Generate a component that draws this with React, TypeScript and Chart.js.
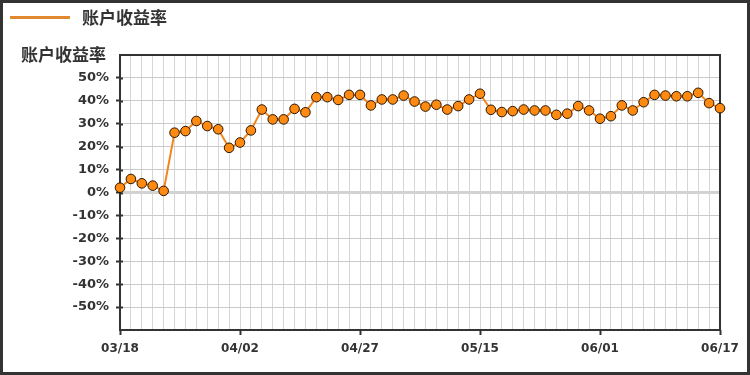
import React, { useEffect, useRef } from "react";
import { Chart, registerables } from "chart.js";

Chart.register(...registerables);

const SERIES_NAME = "账户收益率";
const Y_TITLE = "账户收益率";

const xLabels: string[] = [
  "03/18", "", "", "", "", "", "", "", "", "", "",
  "04/02", "", "", "", "", "", "", "", "", "", "",
  "04/27", "", "", "", "", "", "", "", "", "", "",
  "05/15", "", "", "", "", "", "", "", "", "", "",
  "06/01", "", "", "", "", "", "", "", "", "", "",
  "06/17",
];

const returnRate: number[] = [
  2.1, 5.9, 4.0, 3.0, 0.7, 26.1, 26.8, 31.2, 29.0, 27.6, 19.5,
  21.8, 27.1, 36.2, 31.9, 31.9, 36.5, 35.0, 41.6, 41.6, 40.4, 42.6,
  42.6, 38.0, 40.6, 40.6, 42.3, 39.7, 37.5, 38.3, 36.2, 37.7, 40.6,
  43.1, 36.1, 35.1, 35.5, 36.2, 35.8, 35.8, 33.9, 34.4, 37.7, 35.8,
  32.2, 33.3, 38.0, 35.8, 39.4, 42.6, 42.3, 42.0, 42.0, 43.5, 39.0,
  36.8,
];

const yMin = -60;
const yMax = 60;
const yStep = 10;

const LINE_COLOR = "#f0861c";
const POINT_FILL = "#ff8a12";
const LEGEND_COLOR = "#e0892f";
const TEXT_COLOR = "#333333";
const CJK_FONT = '"Noto Sans CJK SC", "Noto Sans", sans-serif';
const TICK_FONT = '"DejaVu Sans", sans-serif';

const decorPlugin = {
  id: "decor",
  beforeDatasetsDraw(chart: any) {
    const { ctx, chartArea, scales } = chart;
    ctx.save();
    ctx.strokeStyle = "#333333";
    ctx.lineWidth = 2;
    ctx.strokeRect(chartArea.left, chartArea.top, chartArea.right - chartArea.left, chartArea.bottom - chartArea.top);
    // inner part of y tick marks (they cross the axis)
    const y = scales.y;
    ctx.lineWidth = 2;
    y.ticks.forEach((t: any) => {
      if (t.value === yMin || t.value === yMax) return;
      const py = Math.round(y.getPixelForValue(t.value)) + 0.5;
      ctx.beginPath();
      ctx.moveTo(chartArea.left, py);
      ctx.lineTo(chartArea.left + 3, py);
      ctx.stroke();
    });
    ctx.restore();
  },
  afterDraw(chart: any) {
    const { ctx, width, height } = chart;
    ctx.save();
    ctx.strokeStyle = "#333333";
    ctx.lineWidth = 3;
    ctx.strokeRect(1.5, 1.5, width - 3, height - 3);
    ctx.strokeStyle = LEGEND_COLOR;
    ctx.lineWidth = 3;
    ctx.beginPath();
    ctx.moveTo(10, 17.5);
    ctx.lineTo(70, 17.5);
    ctx.stroke();
    ctx.fillStyle = TEXT_COLOR;
    ctx.font = `bold 17px ${CJK_FONT}`;
    ctx.textBaseline = "middle";
    ctx.textAlign = "left";
    ctx.fillText(SERIES_NAME, 82, 18);
    ctx.fillText(Y_TITLE, 21, 55);
    ctx.restore();
  },
};

export default function App() {
  const ref = useRef<HTMLCanvasElement | null>(null);

  useEffect(() => {
    if (!ref.current) return;
    const chart = new Chart(ref.current, {
      type: "line",
      data: {
        labels: xLabels,
        datasets: [
          {
            label: SERIES_NAME,
            data: returnRate,
            borderColor: LINE_COLOR,
            borderWidth: 2,
            backgroundColor: POINT_FILL,
            pointBackgroundColor: POINT_FILL,
            pointBorderColor: "#2a1500",
            pointBorderWidth: 1,
            pointRadius: 4.8,
            tension: 0,
            fill: false,
            clip: false as any,
          },
        ],
      },
      options: {
        responsive: false,
        animation: false,
        devicePixelRatio: 1,
        layout: { padding: { left: 0, right: 30, top: 55, bottom: 0 } },
        plugins: {
          legend: { display: false },
          tooltip: { enabled: false },
          title: { display: false },
        },
        scales: {
          x: {
            type: "category",
            offset: false,
            border: { display: false },
            grid: {
              color: "#d6d6d6",
              lineWidth: 1,
              drawTicks: true,
              tickLength: 5,
              tickColor: (ctx: any) => (ctx.tick && ctx.tick.label ? "#333333" : "rgba(0,0,0,0)"),
              tickWidth: 2,
            },
            ticks: {
              autoSkip: false,
              maxRotation: 0,
              minRotation: 0,
              padding: 7,
              color: TEXT_COLOR,
              font: { family: TICK_FONT, size: 12, weight: "bold" },
            },
            afterFit(scale: any) {
              scale.height = 45;
            },
          },
          y: {
            type: "linear",
            min: yMin,
            max: yMax,
            border: { display: false },
            grid: {
              color: (ctx: any) => (ctx.tick && ctx.tick.value === 0 ? "#d2d2d2" : "#cacaca"),
              lineWidth: (ctx: any) => (ctx.tick && ctx.tick.value === 0 ? 3 : 1),
              drawTicks: true,
              tickLength: 4,
              tickColor: (ctx: any) =>
                ctx.tick && (ctx.tick.value === yMin || ctx.tick.value === yMax) ? "rgba(0,0,0,0)" : "#333333",
              tickWidth: 2,
            },
            ticks: {
              stepSize: yStep,
              padding: 7,
              color: TEXT_COLOR,
              font: { family: TICK_FONT, size: 13, weight: "bold" },
              callback: (v: any) => (v === yMin || v === yMax ? "" : `${v}%`),
            },
            afterFit(scale: any) {
              scale.width = 120;
            },
          },
        },
      },
      plugins: [decorPlugin],
    });
    return () => chart.destroy();
  }, []);

  return (
    <div style={{ position: "fixed", left: 0, top: 0, width: 750, height: 375, background: "#ffffff" }}>
      <canvas ref={ref} width={750} height={375} style={{ display: "block", width: 750, height: 375 }} />
    </div>
  );
}
